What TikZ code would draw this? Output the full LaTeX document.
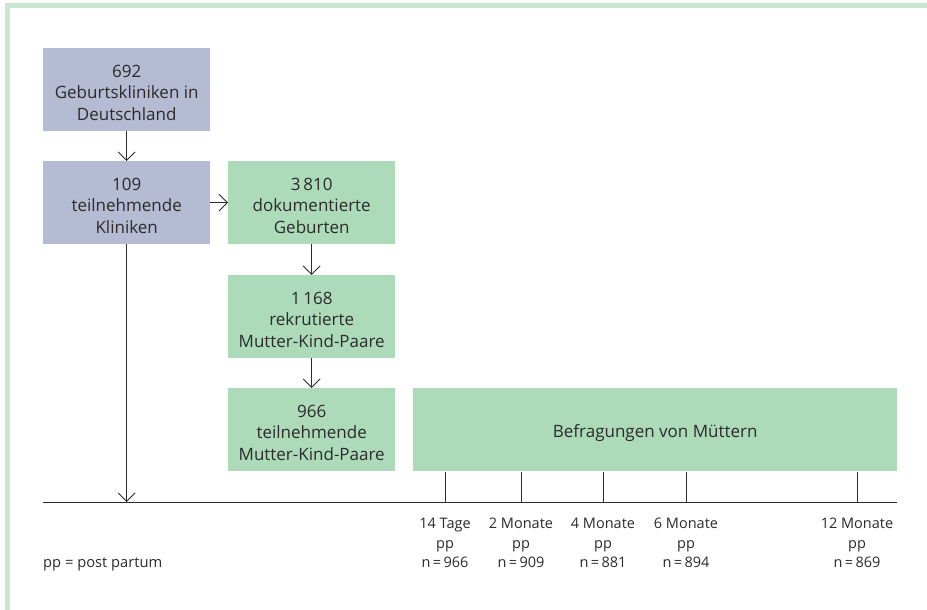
\documentclass[tikz,border=0pt]{standalone}
\usepackage{fontspec}
\setmainfont{Open Sans}
\usetikzlibrary{arrows.meta}
\definecolor{bluebox}{HTML}{B4BBD2}
\definecolor{greenbox}{HTML}{ADDBBA}
\definecolor{frame}{HTML}{C8E6D0}
\definecolor{ink}{HTML}{2B2B2B}
\tikzset{
  box/.style={minimum width=167pt, minimum height=83pt, inner sep=0pt, anchor=north west},
  boxtext/.style={align=center, inner sep=0pt, yshift=-3pt,
    font=\fontsize{17}{21.5}\selectfont, text=ink},
  bluefill/.style={box, fill=bluebox},
  greenfill/.style={box, fill=greenbox},
  arr/.style={draw=ink, line width=0.9pt, -{Straight Barb[length=8.5pt,width=17pt,line width=0.9pt]}},
  plain/.style={draw=ink, line width=0.9pt},
  tlabel/.style={align=center, font=\fontsize{14.5}{19.5}\selectfont, text=ink, anchor=north, inner sep=0pt}
}
\begin{document}
\begin{tikzpicture}[x=1pt,y=-1pt]
\useasboundingbox (0,0) rectangle (927,610);
% frame
\fill[frame] (5,3) rectangle (927,8);
\fill[frame] (5,3) rectangle (10,610);
% boxes
\node[bluefill, label={[boxtext]center:{692\\Geburtskliniken in\\Deutschland}}] (b1) at (43,48) {};
\node[bluefill, label={[boxtext]center:{109\\teilnehmende\\Kliniken}}] (b2) at (43,161) {};
\node[greenfill, label={[boxtext]center:{3\,810\\dokumentierte\\Geburten}}] (b3) at (228,161) {};
\node[greenfill, label={[boxtext]center:{1\,168\\rekrutierte\\Mutter-Kind-Paare}}] (b4) at (228,275) {};
\node[greenfill, label={[boxtext]center:{966\\teilnehmende\\Mutter-Kind-Paare}}] (b5) at (228,388) {};
\node[greenfill, minimum width=484pt, label={[boxtext]center:{Befragungen von Müttern}}] (b6) at (413,388) {};
% timeline
\coordinate (tl) at (43,502);
\coordinate (tr) at (897,502);
\draw[plain] (tl) -- (tr);
% arrows
\draw[arr] (b1.south) -- (b2.north);
\draw[arr] (b2.east) -- (b3.west);
\draw[arr] (b3.south) -- (b4.north);
\draw[arr] (b4.south) -- (b5.north);
\coordinate (a2) at (b2.south |- tl);
\draw[arr] (b2.south) -- (a2);
% ticks
\foreach \x/\n/\t/\v in {445/t1/14 Tage/966, 521/t2/2 Monate/909, 603/t3/4 Monate/881, 686/t4/6 Monate/894, 857/t5/12 Monate/869}{
  \coordinate (\n top) at (\x,472);
  \coordinate (\n) at (\x,502);
  \draw[plain] (\n top) -- (\n);
  \node[tlabel] (\n lab) at (\x,518) {\t\\pp\\n\,=\,\v};
}
\node[font=\fontsize{14.7}{17}\selectfont, text=ink, anchor=west, inner sep=0pt] (pp) at (43,564) {pp = post partum};
\end{tikzpicture}
\end{document}
